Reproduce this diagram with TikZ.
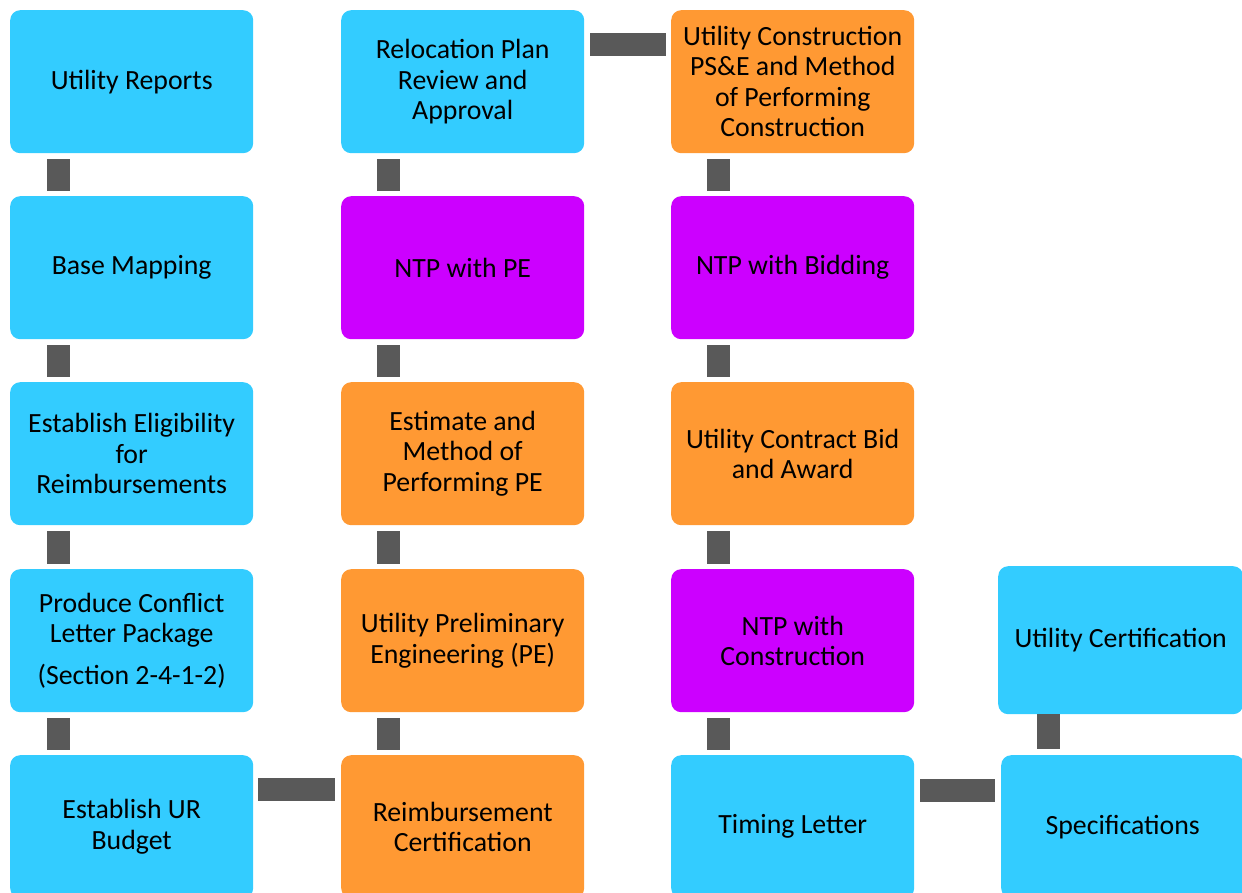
\documentclass[tikz,border=0pt]{standalone}
\usepackage{fontspec}
\setmainfont{Carlito}
\usetikzlibrary{calc}
\definecolor{bcyan}{HTML}{33CCFF}
\definecolor{borange}{HTML}{FF9933}
\definecolor{bpurple}{HTML}{CC00FF}
\definecolor{conngray}{HTML}{595959}
\begin{document}
\begin{tikzpicture}[x=1pt,y=-1pt,
  box/.style={anchor=north west, minimum width=243pt, minimum height=143pt, inner sep=0pt,
    rounded corners=10pt, align=center, font=\fontsize{27.8}{30.5}\selectfont, text=black},
  cyanbox/.style={box, fill=bcyan},
  orangebox/.style={box, fill=borange},
  purplebox/.style={box, fill=bpurple},
  conn/.style={draw=conngray, line width=23pt}]
\useasboundingbox (0,0) rectangle (1242,893);
\clip (0,0) rectangle (1242,893);
% column 1
\node[cyanbox] (ur) at (10,10) {Utility Reports};
\node[cyanbox] (bm) at (10,196) {Base Mapping};
\node[cyanbox] (ee) at (10,382) {Establish Eligibility\\for\\Reimbursements};
\node[cyanbox] (pc) at (10,569) {Produce Conflict\\Letter Package\\[11pt](Section 2-4-1-2)};
\node[cyanbox] (eb) at (10,755) {Establish UR\\Budget};
% column 2
\node[cyanbox] (rp) at (341,10) {Relocation Plan\\Review and\\Approval};
\node[purplebox] (np) at (341,196) {NTP with PE};
\node[orangebox] (em) at (341,382) {Estimate and\\Method of\\Performing PE};
\node[orangebox] (up) at (341,569) {Utility Preliminary\\Engineering (PE)};
\node[orangebox] (rc) at (341,755) {Reimbursement\\Certification};
% column 3
\node[orangebox] (uc) at (671,10) {Utility Construction\\PS\&E and Method\\of Performing\\Construction};
\node[purplebox] (nb) at (671,196) {NTP with Bidding};
\node[orangebox] (cb) at (671,382) {Utility Contract Bid\\and Award};
\node[purplebox] (nc) at (671,569) {NTP with\\Construction};
\node[cyanbox] (tl) at (671,755) {Timing Letter};
% column 4
\node[cyanbox, minimum width=245pt, minimum height=148pt] (ucert) at (998,566) {Utility Certification};
\node[cyanbox, minimum width=243pt] (sp) at (1001,755) {Specifications};
% vertical connectors
\draw[conn] ($(ur.south west)+(48.5,6)$) -- ($(bm.north west)+(48.5,-5)$);
\draw[conn] ($(bm.south west)+(48.5,6)$) -- ($(ee.north west)+(48.5,-5)$);
\draw[conn] ($(ee.south west)+(48.5,6)$) -- ($(pc.north west)+(48.5,-5)$);
\draw[conn] ($(pc.south west)+(48.5,6)$) -- ($(eb.north west)+(48.5,-5)$);
\draw[conn] ($(rp.south west)+(47.5,6)$) -- ($(np.north west)+(47.5,-5)$);
\draw[conn] ($(np.south west)+(47.5,6)$) -- ($(em.north west)+(47.5,-5)$);
\draw[conn] ($(em.south west)+(47.5,6)$) -- ($(up.north west)+(47.5,-5)$);
\draw[conn] ($(up.south west)+(47.5,6)$) -- ($(rc.north west)+(47.5,-5)$);
\draw[conn] ($(uc.south west)+(47.5,6)$) -- ($(nb.north west)+(47.5,-5)$);
\draw[conn] ($(nb.south west)+(47.5,6)$) -- ($(cb.north west)+(47.5,-5)$);
\draw[conn] ($(cb.south west)+(47.5,6)$) -- ($(nc.north west)+(47.5,-5)$);
\draw[conn] ($(nc.south west)+(47.5,6)$) -- ($(tl.north west)+(47.5,-5)$);
\draw[conn] ($(ucert.south west)+(50.5,0)$) -- ($(sp.north west)+(47.5,-6)$);
% horizontal connectors
\draw[conn] ($(rp.north east)+(6,34.5)$) -- ($(uc.north west)+(-5,34.5)$);
\draw[conn] ($(eb.north east)+(5,34.5)$) -- ($(rc.north west)+(-6,34.5)$);
\draw[conn] ($(tl.north east)+(6,35)$) -- ($(sp.north west)+(-6,35)$);
\end{tikzpicture}
\end{document}
